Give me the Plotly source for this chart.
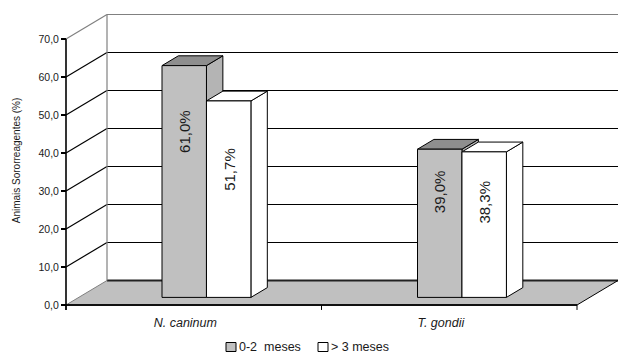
import plotly.graph_objects as go

# ---- data -------------------------------------------------------------
categories = ["N. caninum", "T. gondii"]
series_names = ["0-2  meses", "> 3 meses"]
vals_0_2 = [61.0, 39.0]
vals_3 = [51.7, 38.3]
y_ticks = [0, 10, 20, 30, 40, 50, 60, 70]
y_title = "Animais Sororreagentes (%)"

# ---- geometry of the oblique "3-D" box -------------------------------
W, H = 618, 353
M_L, M_R, M_T, M_B = 56, 0, 8, 40
PX_PER_CAT = 255.5          # pixels per category slot
PX_PER_PCT = 3.8            # pixels per percentage point
ORIGIN = (66, 305)          # page pixel of the front-left floor corner

DX = 41 / PX_PER_CAT        # full depth of the box, x units
DY = 24.5 / PX_PER_PCT      # full depth of the box, y units
FRONT = 0.31                # depth fraction where bar front faces sit
DEPTH = 0.40                # bar depth as a fraction of box depth
BAR_W = 0.174               # bar width in category units
LABEL_POS = [0.715, 0.653]  # label height as fraction of bar height

x_min = -(ORIGIN[0] - M_L) / PX_PER_CAT
x_max = (W - M_R - ORIGIN[0]) / PX_PER_CAT
y_min = -(H - M_B - ORIGIN[1]) / PX_PER_PCT
y_max = (ORIGIN[1] - M_T) / PX_PER_PCT
n_cat = len(categories)

FONT = "Arial, Liberation Sans, sans-serif"
GRAY = "#C0C0C0"
face_colors = [
    {"front": GRAY, "top": "#8E8E8E", "side": "#B4B4B4"},
    {"front": "#FFFFFF", "top": "#FFFFFF", "side": "#FFFFFF"},
]

shapes = []


def seg(x0, y0, x1, y1, color="#000000", width=1.0):
    shapes.append(dict(type="line", xref="x", yref="y", x0=x0, y0=y0,
                       x1=x1, y1=y1, layer="below",
                       line=dict(color=color, width=width)))


def poly(pts, fill, color="#000000", width=1.0):
    path = "M " + " L ".join(f"{x},{y}" for x, y in pts) + " Z"
    shapes.append(dict(type="path", xref="x", yref="y", path=path,
                       fillcolor=fill, layer="below",
                       line=dict(color=color, width=width)))


# floor
poly([(0, 0), (n_cat, 0), (n_cat + DX, DY), (DX, DY)], GRAY, width=0)

# back wall gridlines and side-wall diagonals
for v in y_ticks:
    if v == y_ticks[-1]:
        c, w = "#808080", 1.2
    elif v == 0:
        c, w = "#222222", 2.0
    else:
        c, w = "#000000", 1.2
    seg(DX, v + DY, n_cat + DX, v + DY, c, w)
    seg(0, v, DX, v + DY, "#808080" if v in (0, y_ticks[-1]) else "#000000",
        1.0 if v == 0 else 1.2)
seg(DX, DY, DX, y_ticks[-1] + DY, "#808080", 1.2)

# floor edges, value axis and category ticks
seg(n_cat, 0, n_cat + DX, DY, "#000000", 1.0)
seg(0, 0, n_cat, 0, "#111111", 2.0)
seg(0, -1.3, 0, y_ticks[-1], "#000000", 1.6)
for i in range(n_cat + 1):
    seg(i, 0, i, -1.3, "#000000", 1.0)

# top and side faces of the columns (front faces are Bar traces)
all_vals = [vals_0_2, vals_3]
for i in range(n_cat):
    for s, vals in enumerate(all_vals):
        xl = i + 0.5 + FRONT * DX - BAR_W + s * BAR_W
        xr = xl + BAR_W
        b = FRONT * DY
        t = b + vals[i]
        ddx, ddy = DEPTH * DX, DEPTH * DY
        poly([(xr, b), (xr, t), (xr + ddx, t + ddy), (xr + ddx, b + ddy)],
             face_colors[s]["side"])
        poly([(xl, t), (xr, t), (xr + ddx, t + ddy), (xl + ddx, t + ddy)],
             face_colors[s]["top"])

fig = go.Figure()
annotations = []
for s, vals in enumerate(all_vals):
    off = FRONT * DX - BAR_W + s * BAR_W
    fig.add_trace(go.Bar(
        x=[i + 0.5 for i in range(n_cat)], y=vals,
        base=FRONT * DY, width=BAR_W, offset=off,
        marker=dict(color=face_colors[s]["front"],
                    line=dict(color="#000000", width=1)),
        name=series_names[s], showlegend=False, hoverinfo="skip",
    ))
    for i, v in enumerate(vals):
        annotations.append(dict(
            x=i + 0.5 + off + BAR_W / 2, y=FRONT * DY + LABEL_POS[s] * v,
            xref="x", yref="y", text=f"{v:.1f}%".replace(".", ","),
            textangle=-90, showarrow=False,
            font=dict(family=FONT, size=15, color="#1a1a1a"),
            xanchor="center", yanchor="middle",
        ))


# legend drawn in page pixels
def px(xp):
    return (xp - M_L) / (W - M_L - M_R)


def py(yp):
    return (H - M_B - yp) / (H - M_T - M_B)


LEG_Y = 347
legend_items = [(226, GRAY, series_names[0]), (318, "#FFFFFF", series_names[1])]
for x0, col, name in legend_items:
    shapes.append(dict(type="rect", xref="paper", yref="paper",
                       x0=px(x0), x1=px(x0 + 10), y0=py(LEG_Y + 4.5),
                       y1=py(LEG_Y - 4.5), fillcolor=col, layer="above",
                       line=dict(color="#000000", width=1)))
    annotations.append(dict(x=px(x0 + 10.5), y=py(LEG_Y), xref="paper",
                            yref="paper", text=name, showarrow=False,
                            xanchor="left", yanchor="middle",
                            font=dict(family=FONT, size=12.5, color="#1a1a1a")))

fig.update_layout(
    width=W, height=H,
    margin=dict(l=M_L, r=M_R, t=M_T, b=M_B, pad=0),
    paper_bgcolor="#FFFFFF", plot_bgcolor="#FFFFFF",
    barmode="overlay", separators=",.",
    shapes=shapes, annotations=annotations, showlegend=False,
    font=dict(family=FONT, color="#1a1a1a"),
    xaxis=dict(
        range=[x_min, x_max], showgrid=False, zeroline=False, showline=False,
        tickmode="array",
        tickvals=[i + 0.467 for i in range(n_cat)],
        ticktext=[f"<i>{c}</i>" for c in categories],
        ticks="", tickfont=dict(family=FONT, size=12.5, color="#1a1a1a"),
    ),
    yaxis=dict(
        range=[y_min, y_max], anchor="free",
        position=(ORIGIN[0] - M_L) / (W - M_L - M_R),
        showgrid=False, zeroline=False, showline=False,
        tickmode="array", tickvals=y_ticks, tickformat=".1f",
        ticks="outside", ticklen=5, tickwidth=1.5, tickcolor="#000000",
        tickfont=dict(family=FONT, size=10.5, color="#1a1a1a"),
        title=dict(text=y_title, standoff=14,
                   font=dict(family=FONT, size=10, color="#1a1a1a")),
    ),
)

fig.write_html("out.html")
